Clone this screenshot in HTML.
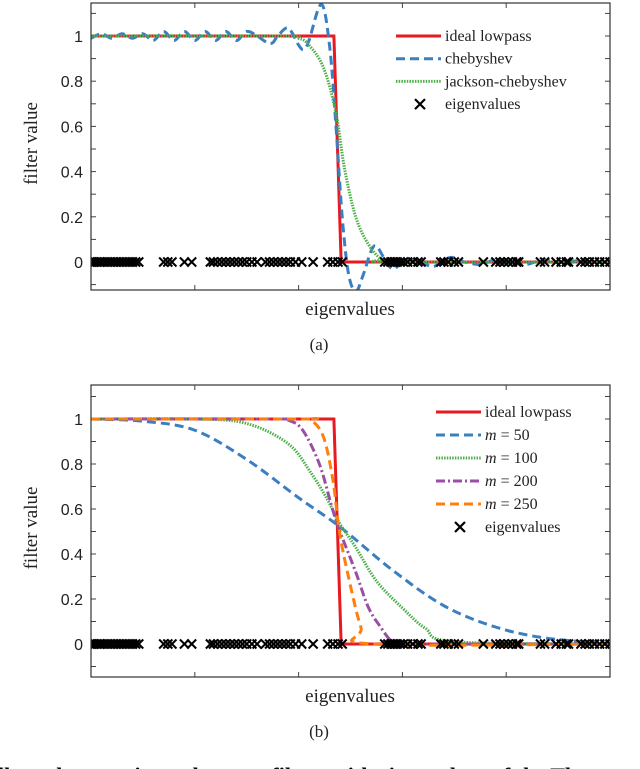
<!DOCTYPE html>
<html><head><meta charset="utf-8">
<style>
html,body{margin:0;padding:0;background:#fff;width:640px;height:769px;overflow:hidden}
svg text{font-family:"Liberation Serif",serif}
.tick{font-family:"Liberation Sans",sans-serif;font-size:16px}
</style></head>
<body>
<svg id="chart" width="640" height="769" viewBox="0 0 640 769" xmlns="http://www.w3.org/2000/svg">
<text x="-2" y="783" font-size="22" font-weight="bold" style="font-family:'Liberation Serif',serif">lly and approximate lowpass filters with eigenvalues of the Th</text>
</svg>
<script>
// ---------- data ----------
const eigenvalues=[0,0.02,0.04,0.06,0.08,0.1,0.13,0.16,0.19,0.22,0.25,0.28,0.31,0.34,0.37,0.4,0.43,0.46,0.7,0.74,0.78,0.9,0.97,1.15,1.18,1.22,1.26,1.3,1.34,1.38,1.42,1.46,1.5,1.55,1.6,1.68,1.72,1.76,1.8,1.84,1.88,1.92,1.97,2.03,2.14,2.28,2.33,2.38,2.42,2.83,2.86,2.89,2.92,2.95,2.98,3.01,3.05,3.1,3.15,3.18,3.37,3.4,3.44,3.5,3.54,3.78,3.9,3.94,3.98,4.02,4.06,4.1,4.12,4.33,4.37,4.48,4.53,4.58,4.6,4.72,4.76,4.8,4.85,4.9,4.95,5.0];
const idealX=[0,2.34,2.41,5];
const idealY=[1,1,0,0];
const chebX=[0,0.1,0.2,0.3,0.4,0.5,0.6,0.7,0.8,0.9,1.0,1.1,1.2,1.3,1.4,1.5,1.6,1.7,1.75,1.8,1.9,2.0,2.05,2.1,2.22,2.3,2.36,2.42,2.48,2.55,2.62,2.7,2.75,2.82,2.9,2.98,3.06,3.18,3.3,3.46,3.6,3.75,3.9,4.05,4.2,4.35,4.5,4.7,4.85,5];
const chebY=[0.99,1.01,0.99,1.01,0.99,1.01,0.98,1.02,0.98,1.02,0.98,1.02,0.98,1.02,0.98,1.02,1.0,0.97,0.97,1.0,1.035,0.96,0.94,0.98,1.14,0.95,0.6,0.2,-0.05,-0.13,-0.06,0.05,0.07,0.02,-0.03,-0.01,0.01,0.0,-0.02,0.02,0.0,-0.01,0.01,0.0,-0.01,0.01,0.0,0.005,0,0];
const jacksonX=[0,1.8,2.0,2.1,2.24,2.36,2.44,2.55,2.67,2.79,2.9,5];
const jacksonY=[1,1,0.99,0.96,0.86,0.66,0.42,0.2,0.08,0.015,0,0];
const m50X=[0,0.5,1.0,1.5,2.0,2.4,2.9,3.4,3.9,4.4,5];
const m50Y=[1,0.99,0.95,0.82,0.65,0.52,0.33,0.17,0.075,0.025,0.003];
const m100X=[0,1.0,1.5,1.9,2.12,2.28,2.39,2.55,2.75,3.0,3.22,3.5,5];
const m100Y=[1,1,0.98,0.89,0.76,0.64,0.54,0.43,0.28,0.16,0.07,0.01,0];
const m200X=[0,1.75,1.9,2.04,2.2,2.32,2.39,2.55,2.67,2.79,2.9,3.0,5];
const m200Y=[1,1,0.995,0.95,0.8,0.61,0.51,0.32,0.165,0.075,0.01,0,0];
const m250X=[0,2.0,2.12,2.24,2.33,2.39,2.47,2.6,2.71,5];
const m250Y=[1,1,0.995,0.92,0.73,0.51,0.32,0.075,0.0,0];
const yTicks=[0,0.2,0.4,0.6,0.8,1];
const yTickLabels=["0","0.2","0.4","0.6","0.8","1"];
const xTicks=[1,2,3,4];

const NS="http://www.w3.org/2000/svg";
const svg=document.getElementById('chart');
function mk(tag,attrs,parent){const e=document.createElementNS(NS,tag);for(const k in attrs)e.setAttribute(k,attrs[k]);(parent||svg).appendChild(e);return e;}

function makePanel(p){
  const L=91,R=610,T=p.top,B=p.bottom;
  const xs=v=>L+(v-0)/5*(R-L);
  const ys=v=>p.y0-v*(p.y0-p.y1);
  const g=mk('g',{});
  
  
  const clipId='clip'+p.name;
  const cp=mk('clipPath',{id:clipId},g);mk('rect',{x:L,y:T,width:R-L,height:B-T},cp);
  for(let v=-0.1;v<=1.101;v+=0.1){
    const y=ys(v);
    const t1=mk('line',{x1:L,x2:L+5,y1:y,y2:y,stroke:'#444','stroke-width':1},g);
    
    
    const t2=mk('line',{x1:R,x2:R-5,y1:y,y2:y,stroke:'#444','stroke-width':1},g);
    
    
  }
  xTicks.forEach(v=>{
    const t=mk('line',{x1:xs(v),x2:xs(v),y1:B,y2:B-5,stroke:'#444'},g);
    
    
    const t2=mk('line',{x1:xs(v),x2:xs(v),y1:T,y2:T+5,stroke:'#444'},g);
    
    
  });
  yTicks.forEach((v,i)=>{
    const t=mk('text',{x:L-8,y:ys(v)+6,'text-anchor':'end','class':'tick',fill:'#222'},g);
    t.textContent=yTickLabels[i];
    
    
  });
  const plot=mk('g',{'clip-path':'url(#'+clipId+')'},g);
  function path(X,Y,style,name,smooth){
    const pts=X.map((x,i)=>[xs(x),ys(Y[i])]);
    let d='M'+pts[0][0]+','+pts[0][1];
    for(let i=0;i<pts.length-1;i++){
      if(!smooth){d+=' L'+pts[i+1][0]+','+pts[i+1][1];continue;}
      const p0=pts[Math.max(0,i-1)],p1=pts[i],p2=pts[i+1],p3=pts[Math.min(pts.length-1,i+2)];
      const c1=[p1[0]+(p2[0]-p0[0])/6,p1[1]+(p2[1]-p0[1])/6];
      const c2=[p2[0]-(p3[0]-p1[0])/6,p2[1]-(p3[1]-p1[1])/6];
      d+=' C'+c1+' '+c2+' '+p2;
    }
    const e=mk('path',Object.assign({d:d,fill:'none'},style),plot);
    
    
  }
  p.series.forEach(s=>path(s.x,s.y,s.style,s.name,s.smooth));
  eigenvalues.forEach(v=>{
    const x=xs(v),y=ys(0),r=4.5;
    const m=mk('path',{d:`M${x-r},${y-r}L${x+r},${y+r}M${x-r},${y+r}L${x+r},${y-r}`,stroke:'#000','stroke-width':2},plot);
    
    
  });
  const box=mk('rect',{x:L,y:T,width:R-L,height:B-T,fill:'none',stroke:'#333','stroke-width':1.2},g);
  
  
  const yl=mk('text',{x:0,y:0,transform:`translate(${37},${(T+B)/2-3}) rotate(-90)`,'text-anchor':'middle','font-size':19,fill:'#222'},g);
  yl.textContent='filter value';
  
  
  const xl=mk('text',{x:350,y:B+25,'text-anchor':'middle','font-size':19,fill:'#222'},g);
  xl.textContent='eigenvalues';
  
  
  const sub=mk('text',{x:319,y:B+60,'text-anchor':'middle','font-size':17,fill:'#222'},g);
  sub.textContent=p.sub;
  
  
  p.series.concat([{name:'eigenvalues'}]).forEach((s,i)=>{
    const y=p.legY+i*p.legDy;
    const lg=mk('g',{},g);
    
    
    if(s.style){mk('line',Object.assign({x1:p.legX,x2:p.legX+45,y1:y,y2:y},s.style),lg);}
    else{const cx=p.legX+24,r=5;mk('path',{d:`M${cx-r},${y-r}L${cx+r},${y+r}M${cx-r},${y+r}L${cx+r},${y-r}`,stroke:'#000','stroke-width':2.2},lg);}
    const t=mk('text',{x:p.legX+49,y:y+5,'font-size':16,fill:'#222'},lg);
    if(s.label&&s.label.startsWith('m =')){
      const a=mk('tspan',{'font-style':'italic'},t);a.textContent='m';
      const b=mk('tspan',{},t);b.textContent=' = '+s.label.slice(4);
    } else t.textContent=s.label||'eigenvalues';
  });
}
const red={stroke:'#e8191f','stroke-width':3};
const blue={stroke:'#3b7fc0','stroke-width':3,'stroke-dasharray':'9 5'};
const green={stroke:'#4daf4a','stroke-width':3,'stroke-dasharray':'1.5 1.2'};
const purple={stroke:'#9a4fa4','stroke-width':3,'stroke-dasharray':'9 3 2 3'};
const orange={stroke:'#ff7f0e','stroke-width':3,'stroke-dasharray':'9 5'};
makePanel({name:'panel-a',top:3,bottom:290,y0:262,y1:36,sub:'(a)',legX:396,legY:36,legDy:22.7,
  series:[{x:idealX,y:idealY,style:red,name:'ideal-lowpass-line',label:'ideal lowpass'},
          {x:chebX,y:chebY,style:blue,name:'chebyshev-line',label:'chebyshev',smooth:true},
          {x:jacksonX,y:jacksonY,style:green,name:'jackson-chebyshev-line',label:'jackson-chebyshev',smooth:true}]});
makePanel({name:'panel-b',top:385,bottom:677,y0:644,y1:419,sub:'(b)',legX:436,legY:412,legDy:23,
  series:[{x:idealX,y:idealY,style:red,name:'ideal-lowpass-line',label:'ideal lowpass'},
          {x:m50X,y:m50Y,style:blue,name:'m50-line',label:'m = 50',smooth:true},
          {x:m100X,y:m100Y,style:green,name:'m100-line',label:'m = 100',smooth:true},
          {x:m200X,y:m200Y,style:purple,name:'m200-line',label:'m = 200',smooth:true},
          {x:m250X,y:m250Y,style:orange,name:'m250-line',label:'m = 250',smooth:true}]});
</script>
</body></html>
